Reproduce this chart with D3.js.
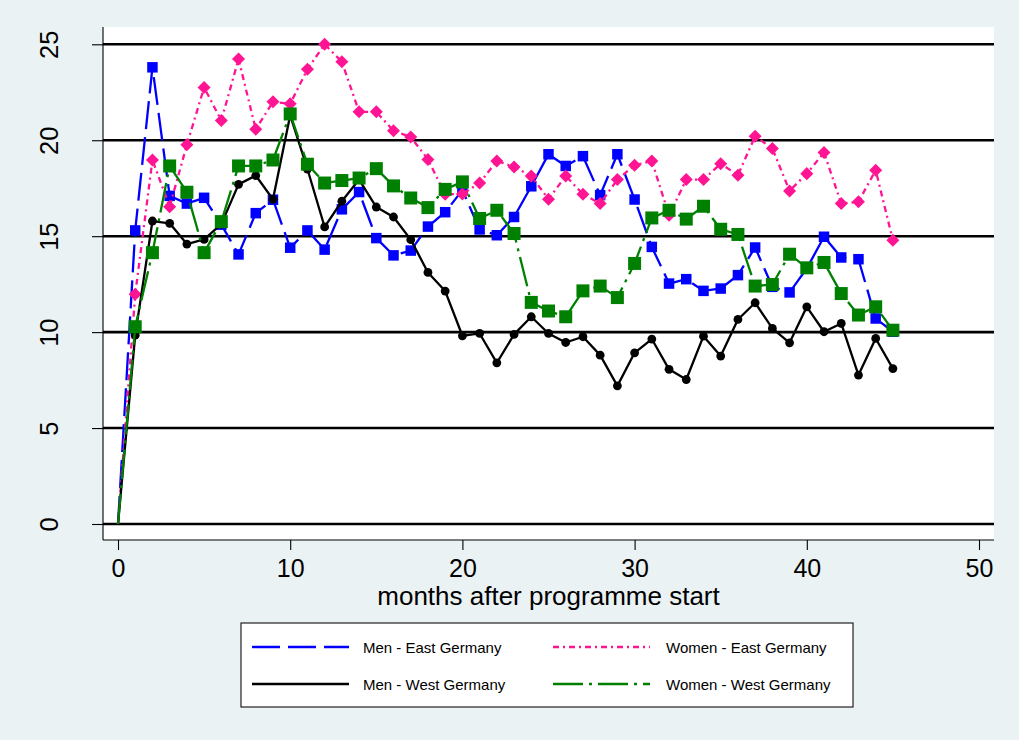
<!DOCTYPE html>
<html>
<head>
<meta charset="utf-8">
<script src="https://cdn.jsdelivr.net/npm/d3@7"></script>
<style>
  html, body { margin: 0; padding: 0; background: #eaf2f3; }
  svg { display: block; }
  text { font-family: "Liberation Sans", Arial, Helvetica, sans-serif; fill: #000; }
</style>
</head>
<body>
<svg id="chart" width="1019" height="740"></svg>
<script>
// Months after programme start (0..45)
const months = d3.range(0, 46);

// Series values (percent), one entry per month
const menEast = [0, 15.3, 23.8, 17.1, 16.7, 17.0, 15.6, 14.05, 16.2, 16.9, 14.4, 15.3, 14.3, 16.4, 17.3, 14.9,
  14.0, 14.25, 15.5, 16.25, 17.4, 15.35, 15.05, 16.0, 17.6, 19.27, 18.66, 19.17, 17.14, 19.27, 16.91,
  14.44, 12.53, 12.76, 12.15, 12.27, 12.97, 14.41, 12.36, 12.07, 13.32, 14.97, 13.89, 13.8, 10.71, 10.02];
const womenEast = [0, 11.97, 18.97, 16.54, 19.76, 22.75, 21.03, 24.23, 20.57, 22.0, 21.9, 23.7, 25.0, 24.09, 21.48, 21.48,
  20.49, 20.17, 19.0, 17.18, 17.2, 17.77, 18.92, 18.61, 18.13, 16.93, 18.14, 17.19, 16.7, 17.95, 18.7,
  18.92, 16.09, 17.95, 17.95, 18.78, 18.18, 20.21, 19.57, 17.36, 18.26, 19.36, 16.7, 16.79, 18.44, 14.79];
const menWest = [0, 9.84, 15.79, 15.67, 14.59, 14.83, 15.63, 17.7, 18.16, 16.92, 21.3, 18.5, 15.48, 16.82, 17.95, 16.52,
  16.0, 14.82, 13.11, 12.14, 9.81, 9.93, 8.4, 9.88, 10.8, 9.93, 9.46, 9.76, 8.8, 7.2, 8.92,
  9.64, 8.06, 7.53, 9.79, 8.75, 10.66, 11.53, 10.19, 9.44, 11.32, 10.02, 10.45, 7.76, 9.67, 8.1];
const womenWest = [0, 10.28, 14.14, 18.66, 17.29, 14.14, 15.76, 18.66, 18.66, 18.97, 21.37, 18.75, 17.77, 17.9, 18.03, 18.52,
  17.62, 16.99, 16.49, 17.44, 17.83, 15.92, 16.35, 15.14, 11.55, 11.1, 10.8, 12.15, 12.4, 11.8, 13.58,
  15.95, 16.35, 15.89, 16.56, 15.36, 15.09, 12.4, 12.48, 14.06, 13.35, 13.63, 12.01, 10.89, 11.32, 10.1];

const seriesNames = ["Men - East Germany", "Women - East Germany", "Men - West Germany", "Women - West Germany"];
const xTicks = [0, 10, 20, 30, 40, 50];
const yTicks = [0, 5, 10, 15, 20, 25];
const xTitle = "months after programme start";

// Drawing styles per series (in drawing order)
const styles = [
  { values: menEast,   color: "#0000ff", dash: "28,8",        marker: "square",  size: 10.5 },
  { values: womenEast, color: "#ff1493", dash: "6,4,2,4",     marker: "diamond", size: 9.2 },
  { values: menWest,   color: "#000000", dash: null,          marker: "circle",  size: 8.8 },
  { values: womenWest, color: "#008000", dash: "30,6,3,6",    marker: "square",  size: 13 }
];

const svg = d3.select("#chart");

// Plot region
const plot = { left: 103, right: 994, top: 27, bottom: 540 };
const x = d3.scaleLinear().domain([0, 50]).range([118, 979]);
const y = d3.scaleLinear().domain([0, 25]).range([524, 44.3]);

svg.append("rect")
  .attr("x", plot.left).attr("y", plot.top)
  .attr("width", plot.right - plot.left).attr("height", plot.bottom - plot.top)
  .attr("fill", "#ffffff");

// Horizontal grid lines
svg.append("g").selectAll("line").data(yTicks).join("line")
  .attr("x1", plot.left).attr("x2", plot.right)
  .attr("y1", d => y(d)).attr("y2", d => y(d))
  .attr("stroke", "#000").attr("stroke-width", 2.6);

// Y axis
const yAxis = d3.axisLeft(y).tickValues(yTicks).tickSize(11).tickPadding(0).tickFormat(d3.format("d"));
const gy = svg.append("g").attr("transform", `translate(${plot.left},0)`).call(yAxis);
gy.select(".domain").remove();
gy.selectAll(".tick line").attr("stroke", "#000").attr("stroke-width", 1.1);
gy.selectAll(".tick text").remove();
gy.selectAll(".tick").append("text")
  .attr("transform", "translate(-45,0) rotate(-90)")
  .attr("text-anchor", "middle")
  .attr("font-size", 25.5)
  .text(d => d);
svg.append("line")
  .attr("x1", plot.left).attr("x2", plot.left)
  .attr("y1", plot.top).attr("y2", plot.bottom)
  .attr("stroke", "#000").attr("stroke-width", 1.1);

// X axis
const xAxis = d3.axisBottom(x).tickValues(xTicks).tickSize(10).tickPadding(0).tickFormat(d3.format("d"));
const gx = svg.append("g").attr("transform", `translate(0,${plot.bottom})`).call(xAxis);
gx.select(".domain").remove();
gx.selectAll(".tick line").attr("stroke", "#000").attr("stroke-width", 1.1);
gx.selectAll(".tick text").remove();
gx.selectAll(".tick").append("text")
  .attr("y", 37)
  .attr("text-anchor", "middle")
  .attr("font-size", 25)
  .text(d => d);
svg.append("line")
  .attr("x1", plot.left).attr("x2", plot.right)
  .attr("y1", plot.bottom).attr("y2", plot.bottom)
  .attr("stroke", "#000").attr("stroke-width", 1.1);

svg.append("text")
  .attr("x", (plot.left + plot.right) / 2).attr("y", 605)
  .attr("text-anchor", "middle")
  .attr("font-size", 26)
  .text(xTitle);

// Marker shapes
function markerPath(type, s) {
  const h = s / 2;
  if (type === "square") return `M${-h},${-h}H${h}V${h}H${-h}Z`;
  if (type === "diamond") { const r = s / Math.SQRT2; return `M0,${-r}L${r},0L0,${r}L${-r},0Z`; }
  return d3.symbol().type(d3.symbolCircle).size(Math.PI * h * h)();
}

// Series: connecting line, then markers
const line = d3.line().x((d, i) => x(months[i])).y(d => y(d));
styles.forEach(st => {
  svg.append("path")
    .attr("d", line(st.values))
    .attr("fill", "none")
    .attr("stroke", st.color)
    .attr("stroke-width", 2.3)
    .attr("stroke-linejoin", "round")
    .attr("stroke-dasharray", st.dash);
  const pts = st.values.map((v, i) => ({ m: months[i], v })).filter(d => d.m > 0);
  svg.append("g").selectAll("path").data(pts).join("path")
    .attr("transform", d => `translate(${x(d.m)},${y(d.v)})`)
    .attr("d", markerPath(st.marker, st.size))
    .attr("fill", st.color);
});

// Legend
const legend = svg.append("g");
legend.append("rect")
  .attr("x", 241).attr("y", 623).attr("width", 612).attr("height", 84)
  .attr("fill", "#fff").attr("stroke", "#222").attr("stroke-width", 1.2);
const legPos = [
  { lx: 252, tx: 363, cy: 647 },
  { lx: 553, tx: 666, cy: 647 },
  { lx: 252, tx: 363, cy: 684 },
  { lx: 553, tx: 666, cy: 684 }
];
styles.forEach((st, i) => {
  const p = legPos[i];
  legend.append("line")
    .attr("x1", p.lx).attr("x2", p.lx + 97)
    .attr("y1", p.cy).attr("y2", p.cy)
    .attr("stroke", st.color).attr("stroke-width", 2.4)
    .attr("stroke-dasharray", st.dash);
  legend.append("text")
    .attr("x", p.tx).attr("y", p.cy + 5.5)
    .attr("font-size", 15)
    .text(seriesNames[i]);
});
</script>
</body>
</html>
